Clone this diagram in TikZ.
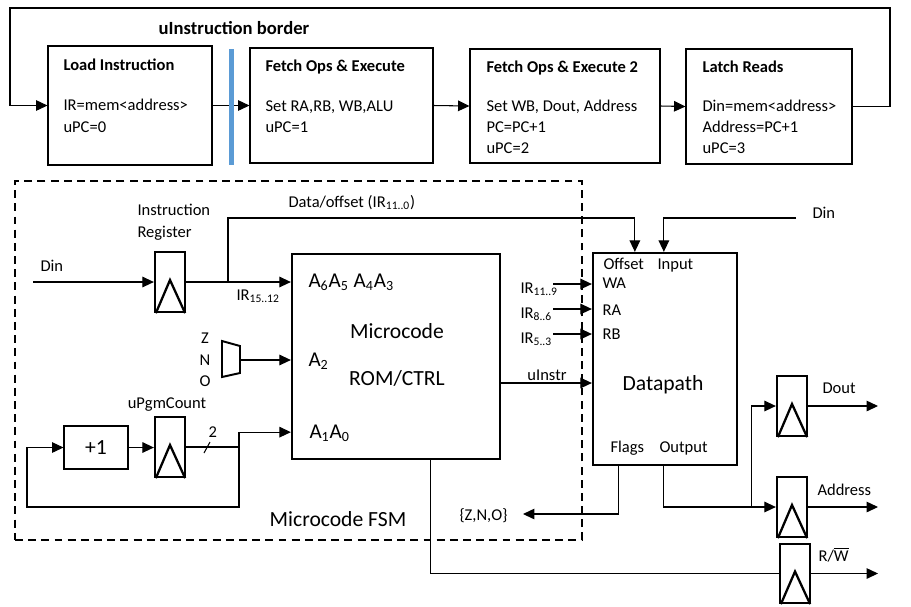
\documentclass[tikz,border=0pt]{standalone}
\usepackage{fontspec}
\setmainfont{Carlito}
\usetikzlibrary{arrows.meta,calc,fit}
\definecolor{barblue}{RGB}{91,155,213}
\newcommand{\flipflop}[3]{
	\node[reg, fit={(#2) (#3)}] (#1) {};
	\draw[line width=1.3pt] ($(#1.south west)+(2,0)$) -- ($(#1.center)+(0,-2)$) -- ($(#1.south east)+(-1,0)$);
}

\begin{document}
\begin{tikzpicture}[x=0.02cm,y=-0.02cm,line width=0.6pt,
	>={Triangle[length=6.5pt,width=6pt]},
	font=\fontsize{9.4}{11}\selectfont,
	txt/.style={inner sep=0pt, anchor=west, text height=7.5pt, text depth=1.5pt},
	title/.style={txt, font=\fontsize{9.4}{11}\selectfont\bfseries},
	big/.style={inner sep=0pt, font=\fontsize{12.3}{14}\selectfont},
	alabel/.style={inner sep=0pt, anchor=base west, font=\fontsize{12}{14}\selectfont},
	stage/.style={draw, inner sep=0pt},
	bigbox/.style={draw, line width=1.3pt, inner sep=0pt},
	reg/.style={draw, line width=1.3pt, inner sep=0pt},
	fsm/.style={draw, dash pattern=on 4.5pt off 3pt, line width=1.1pt, inner sep=0pt},
	bus/.style={line width=1.1pt}]
	\useasboundingbox (0,0) rectangle (911,606);

	% micro program stages
	\node[stage, fit={(48,46) (212,165)}] (load) {};
	\node[stage, fit={(250,48) (433,163)}] (exec) {};
	\node[stage, fit={(470,49) (660,163)}] (exectwo) {};
	\node[stage, fit={(686,49) (852,164)}] (latch) {};
	\coordinate (backr) at (890,8);
	\coordinate (backl) at (10,8);

	\node[font=\fontsize{10.6}{12}\selectfont\bfseries] (bordert) at (234,28) {uInstruction border};

	\node[title] (loadt) at (63,65) {Load Instruction};
	\node[txt] (loada) at (63,105) {IR=mem<address>};
	\node[txt] (loadb) at (63,127) {uPC=0};
	\node[title] (exect) at (265,66) {Fetch Ops \& Execute};
	\node[txt] (execa) at (265,106) {Set RA,RB, WB,ALU};
	\node[txt] (execb) at (265,127) {uPC=1};
	\node[title] (exectwot) at (486,67) {Fetch Ops \& Execute 2};
	\node[txt] (exectwoa) at (486,106) {Set WB, Dout, Address};
	\node[txt] (exectwob) at (486,127) {PC=PC+1};
	\node[txt] (exectwoc) at (486,148) {uPC=2};
	\node[title] (latcht) at (702,67) {Latch Reads};
	\node[txt] (latcha) at (702,106) {Din=mem<address>};
	\node[txt] (latchb) at (702,127) {Address=PC+1};
	\node[txt] (latchc) at (702,148) {uPC=3};

	\draw[->] (load.east) -- (exec.west);
	\draw[->] (exec.east) -- (exectwo.west);
	\draw[->] (exectwo.east) -- (latch.west);
	\draw[->] (latch.east) -| (backr) -- (backl) |- (load.west);
	\fill[barblue] (229,49) rectangle (234,165);

	% microcode FSM
	\node[fsm, fit={(15,181) (582,540)}] (fsmbox) {};
	\node[big, anchor=base] (fsmt) at (338,526) {Microcode FSM};

	\node[bigbox, fit={(292,254) (500,459)}] (rom) {};
	\node[big, anchor=base] (romta) at (397,338) {Microcode};
	\node[big, anchor=base] (romtb) at (397,385) {ROM/CTRL};
	\node[alabel] (romhi) at (308,287) {A\textsubscript{6}A\textsubscript{5} A\textsubscript{4}A\textsubscript{3}};
	\node[alabel] (romflag) at (308,366) {A\textsubscript{2}};
	\node[alabel] (romlo) at (309,438) {A\textsubscript{1}A\textsubscript{0}};

	\flipflop{irreg}{155,252}{185,312}
	\node[txt] (irta) at (137,210) {Instruction};
	\node[txt] (irtb) at (137,232) {Register};
	\coordinate (dinl) at (33,282);
	\node[txt] (dinlt) at (40,266) {Din};
	\draw[->] (dinl) -- (irreg.west);
	\draw[->] (irreg.east) -- (irreg.east -| rom.west);
	\node[txt] (irhi) at (236,295) {IR\textsubscript{15..12}};

	\draw[line width=1.1pt] (222,341) -- (240,346) -- (240,373) -- (222,377) -- cycle;
	\coordinate (muxout) at (240,360);
	\draw[->] (muxout) -- (muxout -| rom.west);
	\node[txt, anchor=center] (flz) at (205,338) {Z};
	\node[txt, anchor=center] (fln) at (205,360) {N};
	\node[txt, anchor=center] (flo) at (205,381) {O};

	\node[stage, fit={(64,426) (128,469)}] (inc) {};
	\node[big] (inct) at (inc.center) {+1};
	\flipflop{pcreg}{155,417}{185,477}
	\node[txt, anchor=center] (pct) at (167,403) {uPgmCount};
	\draw[->] (inc.east) -- (inc.east -| pcreg.west);
	\coordinate (pcjoin) at (239,447);
	\coordinate (pcin) at ($(rom.south west)+(0,-28)$);
	\coordinate (pcloop) at (27,507);
	\draw[bus] (pcreg.east) -- (pcjoin);
	\draw[->] (pcjoin) |- (pcin);
	\draw[->] (pcjoin) |- (pcloop) |- (inc.west);
	\draw (204,453) -- (210,442);
	\node[txt] (pcwidth) at (208,432) {2};

	% datapath
	\node[bigbox, fit={(593,253) (737,465)}] (dpath) {};
	\node[big, anchor=base] (dpt) at (663,390) {Datapath};
	\node[txt] (dpoffset) at (603,264) {Offset};
	\node[txt] (dpinput) at (657,264) {Input};
	\node[txt] (dpwa) at (602,283) {WA};
	\node[txt] (dpra) at (602,310) {RA};
	\node[txt] (dprb) at (602,334) {RB};
	\node[txt] (dpflags) at (610,447) {Flags};
	\node[txt] (dpoutput) at (659,447) {Output};

	\coordinate (offtap) at (228,282);
	\coordinate (offtop) at (228,218);
	\coordinate (dpoff) at ($(dpath.north west)+(43,0)$);
	\draw[->] (offtap) -- (offtop) -| (dpoff);
	\node[txt] (offt) at (288,202) {Data/offset (IR\textsubscript{11..0})};

	\coordinate (dinr) at (796,218);
	\coordinate (dpin) at ($(dpath.north west)+(72,0)$);
	\draw[->] (dinr) -| (dpin);
	\node[txt] (dinrt) at (812,213) {Din};

	\foreach \y/\n/\f in {284/wa/11..9, 309/ra/8..6, 334/rb/5..3} {
		\coordinate (ir\n) at (553,\y);
		\draw[->] (ir\n) -- (ir\n -| dpath.west);
		\node[txt] (irt\n) at (520,\y+4) {IR\textsubscript{\f}};
	}

	\coordinate (uinstr) at (500,383);
	\draw[->] (uinstr) -- (uinstr -| dpath.west);
	\node[txt, anchor=center] (uinstrt) at (547,375) {uInstr};

	\coordinate (dpflag) at ($(dpath.south west)+(27,0)$);
	\coordinate (flagout) at (523,514);
	\draw[->] (dpflag) |- (flagout);
	\node[txt] (flagt) at (459,515) {\{Z,N,O\}};

	% output registers
	\flipflop{doutreg}{777,376}{807,436}
	\flipflop{addrreg}{777,477}{807,537}
	\flipflop{rwreg}{780,544}{810,603}
	\coordinate (outx) at (878,0);
	\coordinate (dpres) at ($(dpath.south west)+(72,0)$);
	\coordinate (split) at ($(addrreg.west)+(-24,0)$);
	\coordinate (romrw) at ($(rom.south west)+(140,0)$);
	\draw[->] (dpres) |- (addrreg.west);
	\draw[->] (split) |- (doutreg.west);
	\draw (romrw) |- (rwreg.west);
	\draw[->] (doutreg.east) -- (doutreg.east -| outx);
	\draw[->] (addrreg.east) -- (addrreg.east -| outx);
	\draw[->] (rwreg.east) -- (rwreg.east -| outx);
	\node[txt] (doutt) at (822,388) {Dout};
	\node[txt] (addrt) at (817,490) {Address};
	\node[txt] (rwt) at (818,556) {R/$\overline{\hbox{W}}$};
\end{tikzpicture}
\end{document}
